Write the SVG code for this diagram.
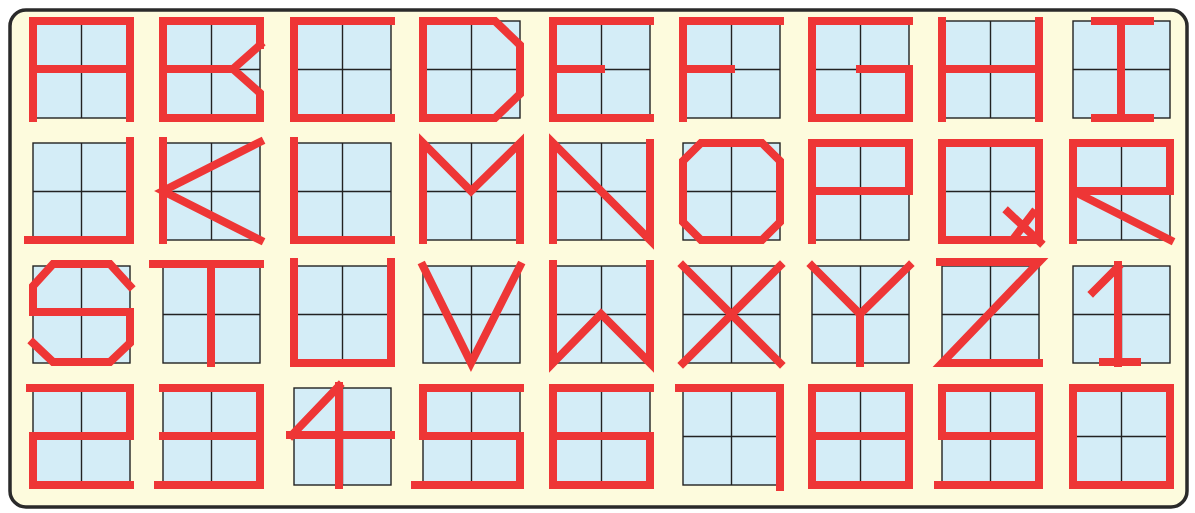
<svg xmlns="http://www.w3.org/2000/svg" xmlns:xlink="http://www.w3.org/1999/xlink" width="1195" height="513" viewBox="0 0 1195 513">
<style>
.grid{fill:#d4edf7;stroke:#222;stroke-width:1.4}
.gl{stroke:#222;stroke-width:1.4}
.seg{fill:none;stroke:#ee3636;stroke-width:8;stroke-linecap:square;stroke-linejoin:miter}
</style>
<defs>
<g id="cell">
<rect class="grid" x="0" y="0" width="97" height="97"/>
<line class="gl" x1="48.5" y1="0" x2="48.5" y2="97"/>
<line class="gl" x1="0" y1="48.5" x2="97" y2="48.5"/>
</g>
</defs>
<rect x="0" y="0" width="1195" height="513" fill="#ffffff"/>
<rect x="10" y="10" width="1177" height="497" rx="16" ry="16" fill="#fdfbdd" stroke="#2a2a2a" stroke-width="3.5"/>
<g id="connectors"/>
<!-- row 1 -->
<g id="letter-A" transform="translate(33,21)"><use xlink:href="#cell"/><path class="seg" d="M0,97 V0 H97 V97 M0,48 H97"/></g>
<g id="letter-B" transform="translate(163,21)"><use xlink:href="#cell"/><path class="seg" d="M97,24 V0 H0 V97 H97 V72 L70,48 L97,24 M0,48 H70"/></g>
<g id="letter-C" transform="translate(294,21)"><use xlink:href="#cell"/><path class="seg" d="M97,0 H0 V97 H97"/></g>
<g id="letter-D" transform="translate(423,21)"><use xlink:href="#cell"/><path class="seg" d="M0,0 H72 L97,24 V73 L72,97 H0 Z"/></g>
<g id="letter-E" transform="translate(553,21)"><use xlink:href="#cell"/><path class="seg" d="M97,0 H0 V97 H97 M0,48 H48"/></g>
<g id="letter-F" transform="translate(683,21)"><use xlink:href="#cell"/><path class="seg" d="M97,0 H0 V97 M0,48 H48"/></g>
<g id="letter-G" transform="translate(812,21)"><use xlink:href="#cell"/><path class="seg" d="M97,0 H0 V97 H97 V48 H48"/></g>
<g id="letter-H" transform="translate(942,21)"><use xlink:href="#cell"/><path class="seg" d="M0,0 V97 M97,0 V97 M0,48 H97"/></g>
<g id="letter-I" transform="translate(1073,21)"><use xlink:href="#cell"/><path class="seg" d="M22,0 H77 M48,0 V97 M22,97 H77"/></g>
<!-- row 2 -->
<g id="letter-J" transform="translate(33,143)"><use xlink:href="#cell"/><path class="seg" d="M97,-2 V97 H-5"/></g>
<g id="letter-K" transform="translate(163,143)"><use xlink:href="#cell"/><path class="seg" d="M0,-2 V97 M97,-1 L0,48 L97,97"/></g>
<g id="letter-L" transform="translate(294,143)"><use xlink:href="#cell"/><path class="seg" d="M0,-2 V97 H97"/></g>
<g id="letter-M" transform="translate(423,143)"><use xlink:href="#cell"/><path class="seg" d="M0,97 V0 L48,48 L97,0 V97"/></g>
<g id="letter-N" transform="translate(553,143)"><use xlink:href="#cell"/><path class="seg" d="M0,97 V0 L97,97 V0"/></g>
<g id="letter-O" transform="translate(683,143)"><use xlink:href="#cell"/><path class="seg" d="M18,0 H79 L97,18 V79 L79,97 H18 L0,79 V18 Z"/></g>
<g id="letter-P" transform="translate(812,143)"><use xlink:href="#cell"/><path class="seg" d="M0,97 V0 H97 V48 H0"/></g>
<g id="letter-Q" transform="translate(942,143)"><use xlink:href="#cell"/><path class="seg" d="M0,0 H97 V97 H0 Z M66,69 L98,99 M91,70 L72,95"/></g>
<g id="letter-R" transform="translate(1073,143)"><use xlink:href="#cell"/><path class="seg" d="M0,97 V0 H97 V48 H0 L97,97"/></g>
<!-- row 3 -->
<g id="letter-S" transform="translate(33,266)"><use xlink:href="#cell"/><path class="seg" d="M97,20 L77,-2 H20 L0,20 V46 H97 V77 L77,96 H20 L0,77"/></g>
<g id="letter-T" transform="translate(163,266)"><use xlink:href="#cell"/><path class="seg" d="M-10,-2 H97 M48,-2 V97"/></g>
<g id="letter-U" transform="translate(294,266)"><use xlink:href="#cell"/><path class="seg" d="M0,-4 V97 H97 V-4"/></g>
<g id="letter-V" transform="translate(423,266)"><use xlink:href="#cell"/><path class="seg" d="M0,0 L48,97 L97,0"/></g>
<g id="letter-W" transform="translate(553,266)"><use xlink:href="#cell"/><path class="seg" d="M0,-2 V97 L48,48 L97,97 V-2"/></g>
<g id="letter-X" transform="translate(683,266)"><use xlink:href="#cell"/><path class="seg" d="M0,0 L97,97 M97,0 L0,97"/></g>
<g id="letter-Y" transform="translate(812,266)"><use xlink:href="#cell"/><path class="seg" d="M0,0 L48,48 L97,0 M48,48 V97"/></g>
<g id="letter-Z" transform="translate(942,266)"><use xlink:href="#cell"/><path class="seg" d="M-2,-4 H97 L0,97 H97"/></g>
<g id="digit-1" transform="translate(1073,266)"><use xlink:href="#cell"/><path class="seg" d="M45,-1 V97 M45,1 L20,26 M30,96 H64"/></g>
<!-- row 4 -->
<g id="digit-2" transform="translate(33,388)"><use xlink:href="#cell"/><path class="seg" d="M-3,0 H97 V48 H0 V97 H97"/></g>
<g id="digit-3" transform="translate(163,388)"><use xlink:href="#cell"/><path class="seg" d="M0,0 H97 V97 H-5 M0,48 H97"/></g>
<g id="digit-4" transform="translate(294,388)"><use xlink:href="#cell"/><path class="seg" d="M45,-2 V97 M45,-2 L-2,47 M-4,47 H97"/></g>
<g id="digit-5" transform="translate(423,388)"><use xlink:href="#cell"/><path class="seg" d="M97,0 H0 V48 H97 V97 H-8"/></g>
<g id="digit-6" transform="translate(553,388)"><use xlink:href="#cell"/><path class="seg" d="M97,0 H0 V97 H97 V48 H0"/></g>
<g id="digit-7" transform="translate(683,388)"><use xlink:href="#cell"/><path class="seg" d="M-4,0 H97 V99"/></g>
<g id="digit-8" transform="translate(812,388)"><use xlink:href="#cell"/><path class="seg" d="M0,0 H97 V97 H0 Z M0,48 H97"/></g>
<g id="digit-9" transform="translate(942,388)"><use xlink:href="#cell"/><path class="seg" d="M-4,97 H97 V0 H0 V48 H97"/></g>
<g id="digit-0" transform="translate(1073,388)"><use xlink:href="#cell"/><path class="seg" d="M0,0 H97 V97 H0 Z"/></g>
</svg>
